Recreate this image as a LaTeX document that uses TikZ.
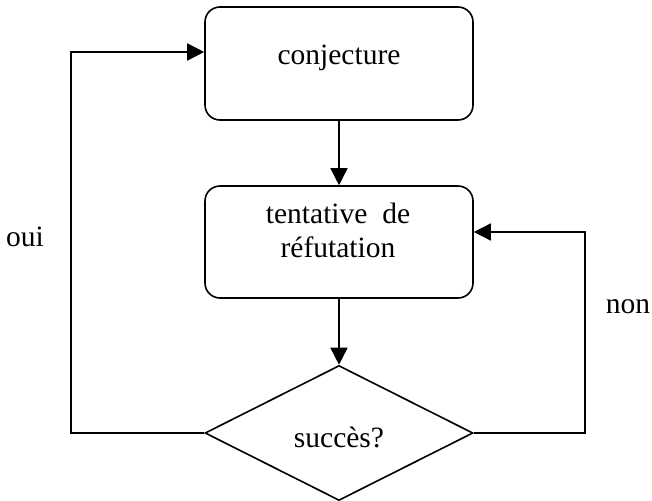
\documentclass[tikz,border=0pt]{standalone}
\usepackage{fontspec}
\setmainfont{Liberation Serif}
\usetikzlibrary{arrows.meta,shapes.geometric}
\begin{document}
\begin{tikzpicture}[x=1pt,y=-1pt,
  box/.style={draw,line width=1.6pt,rounded corners=15pt,minimum width=268pt,minimum height=112pt,inner sep=0pt},
  dec/.style={draw,line width=1.6pt,diamond,aspect=2,minimum width=268pt,minimum height=135pt,inner sep=0pt},
  txt/.style={font=\fontsize{29.5}{34}\selectfont,inner sep=0pt},
  conn/.style={line width=1.6pt},
  arr/.style={conn,-{Triangle[length=17pt,width=17pt]}}]
\useasboundingbox (0,0) rectangle (652,500);
\node[box,minimum height=113pt] (conj) at (339,63.5) {};
\node[box] (refut) at (339,242) {};
\node[dec] (succ) at (339,433) {};
\node[txt,anchor=base] (conjt) at (339,65) {conjecture};
\node[txt,anchor=base,align=center] (refutt) at (338,257) {tentative\ \ de\\réfutation};
\node[txt,anchor=base] (succt) at (339,447) {succès?};
\node[txt,anchor=base] (oui) at (25,246) {oui};
\node[txt,anchor=base] (non) at (628,313) {non};
\draw[arr] (conj.south) -- (refut.north);
\draw[arr] (refut.south) -- (succ.north);
\draw[arr] (succ.west) -- (succ.west -| 71,0) |- (conj.west |- 0,52);
\draw[arr] (succ.east) -- (succ.east -| 585,0) |- (refut.east |- 0,232);
\end{tikzpicture}
\end{document}
